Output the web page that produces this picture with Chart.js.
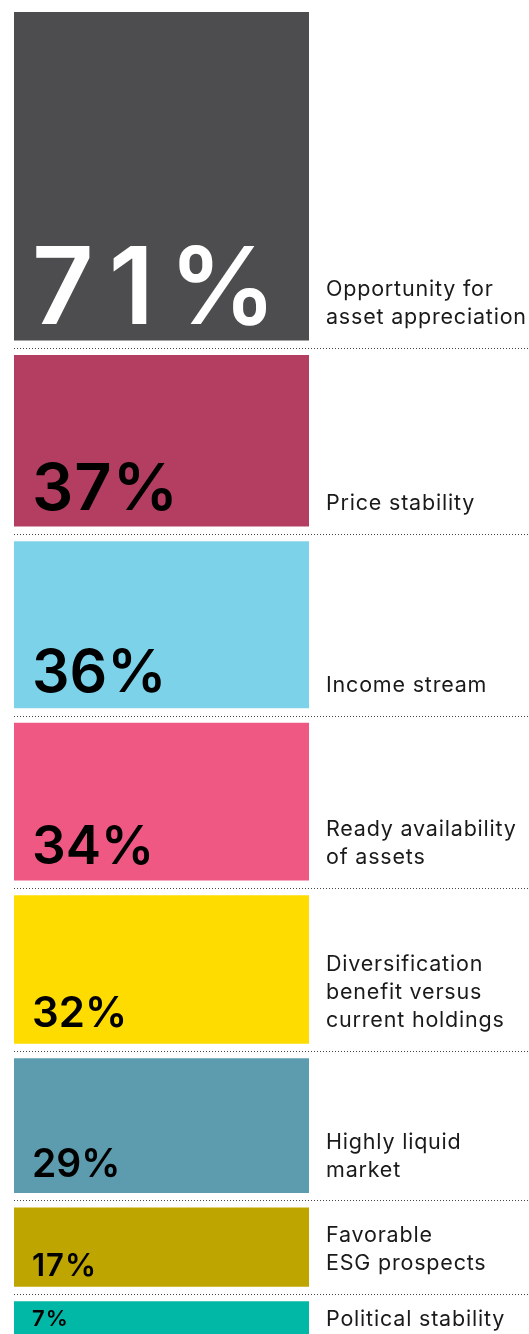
<!DOCTYPE html>
<html>
<head>
<meta charset="utf-8">
<script src="https://cdn.jsdelivr.net/npm/chart.js@4.4.1/dist/chart.umd.min.js"></script>
<style>
  html, body { margin: 0; padding: 0; background: #fff; }
  #wrap { width: 529px; height: 1334px; }
</style>
</head>
<body>
<div id="wrap"><canvas id="myChart" width="529" height="1334"></canvas></div>
<script>
// data
var categories = [
  ['Opportunity for', 'asset appreciation'],
  ['Price stability'],
  ['Income stream'],
  ['Ready availability', 'of assets'],
  ['Diversification', 'benefit versus', 'current holdings'],
  ['Highly liquid', 'market'],
  ['Favorable', 'ESG prospects'],
  ['Political stability']
];
var values = [71, 37, 36, 34, 32, 29, 17, 7];

// styles
var colors = ['#4d4d4f', '#b33e62', '#7cd2e8', '#f05884', '#ffdc00', '#5c9cae', '#bfa500', '#00b8a5'];
var textColors = ['#ffffff', '#000000', '#000000', '#000000', '#000000', '#000000', '#000000', '#000000'];
var pctSizes = [107, 65, 59, 53, 42, 39, 31, 22];
var pctSpacing = [15, 1, 0, 0, 0, 0, 1, 1];
var gap = 3.3; // space between bars, in value units

var datasets = [];
var start = 0;
values.forEach(function(v, i) {
  datasets.push({
    label: categories[i].join(' '),
    data: [[start, start + v]],
    backgroundColor: colors[i],
    borderWidth: 0,
    grouped: false,
    barPercentage: 1,
    categoryPercentage: 1
  });
  start += v + gap;
});
var yMax = start - gap;

var labelPlugin = {
  id: 'labelPlugin',
  afterDatasetsDraw: function(chart) {
    var ctx = chart.ctx;
    var area = chart.chartArea;
    var n = values.length;
    ctx.save();
    for (var i = 0; i < n; i++) {
      var bar = chart.getDatasetMeta(i).data[0];
      var top = Math.min(bar.y, bar.base);
      var bottom = Math.max(bar.y, bar.base);
      var h = bottom - top;

      // dotted separator under each bar
      if (i < n - 1) {
        var nextBar = chart.getDatasetMeta(i + 1).data[0];
        var nextTop = Math.min(nextBar.y, nextBar.base);
        var ly = Math.round((bottom + nextTop) / 2) + 0.5;
        ctx.beginPath();
        ctx.setLineDash([1, 2]);
        ctx.lineWidth = 1;
        ctx.strokeStyle = '#444444';
        ctx.moveTo(area.left, ly);
        ctx.lineTo(chart.width, ly);
        ctx.stroke();
        ctx.setLineDash([]);
      }

      // percentage inside bar
      var size = pctSizes[i];
      ctx.font = '600 ' + size + 'px Inter';
      ctx.letterSpacing = pctSpacing[i] + 'px';
      ctx.fillStyle = textColors[i];
      ctx.textAlign = 'left';
      ctx.textBaseline = 'alphabetic';
      var base;
      if (h < 50) {
        base = (top + bottom) / 2 + size * 0.727 / 2;
      } else {
        base = bottom - Math.min(16, h * 0.135);
      }
      ctx.fillText(values[i] + '%', area.left + 18, base);

      // category label to the right
      ctx.font = '400 21.5px Inter';
      ctx.letterSpacing = '0.8px';
      ctx.fillStyle = '#1a1a1a';
      var lines = categories[i];
      var lastBase;
      if (h < 50) {
        lastBase = (top + bottom) / 2 + 21.5 * 0.727 / 2 + (lines.length - 1) * 14;
      } else {
        lastBase = bottom - 16;
      }
      for (var j = 0; j < lines.length; j++) {
        ctx.fillText(lines[j], area.right + 17, lastBase - (lines.length - 1 - j) * 28);
      }
      ctx.letterSpacing = '0px';
    }
    ctx.restore();
  }
};

var ctx = document.getElementById('myChart');
new Chart(ctx, {
  type: 'bar',
  data: {
    labels: [''],
    datasets: datasets
  },
  options: {
    responsive: false,
    devicePixelRatio: 1,
    animation: false,
    layout: {
      padding: { top: 12, left: 14, right: 220, bottom: 0 }
    },
    scales: {
      x: { display: false },
      y: { display: false, reverse: true, min: 0, max: yMax }
    },
    plugins: {
      legend: { display: false },
      tooltip: { enabled: false }
    }
  },
  plugins: [labelPlugin]
});
</script>
</body>
</html>
